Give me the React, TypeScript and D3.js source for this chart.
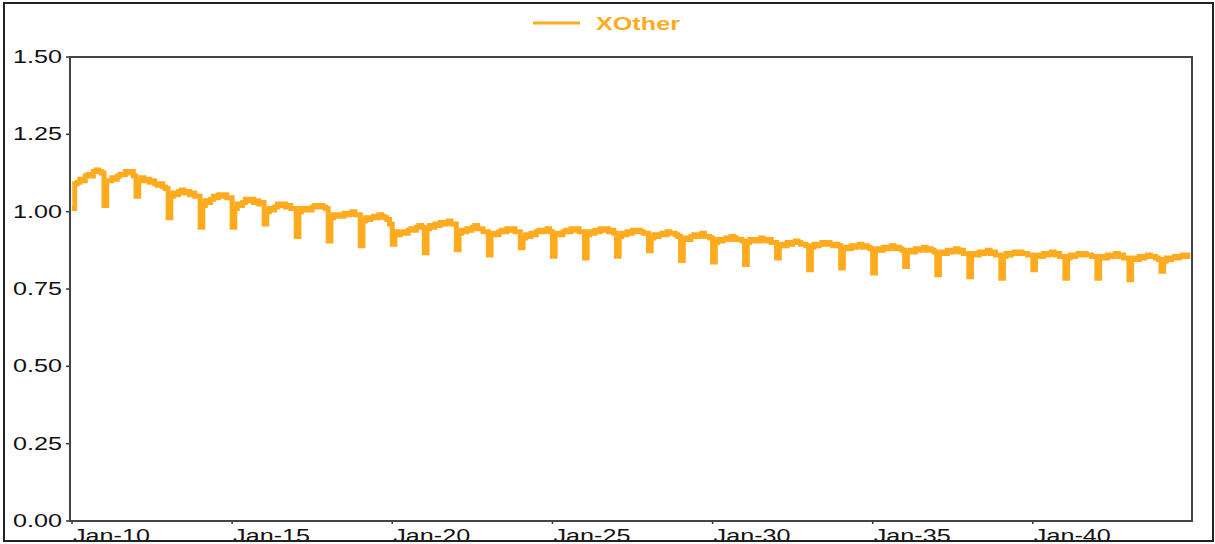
import React from 'react';
import * as d3 from 'd3';

const seriesName = 'XOther';
const seriesColor = '#FFAB1F';
const startYear = 2010;

// monthly values, one row per year (Jan..Dec)
const values: number[][] = [
  [1.01, 1.09, 1.095, 1.105, 1.10, 1.115, 1.12, 1.115, 1.13, 1.135, 1.13, 1.125], // 2010
  [1.02, 1.10, 1.10, 1.11, 1.105, 1.115, 1.12, 1.12, 1.13, 1.125, 1.13, 1.115], // 2011
  [1.05, 1.10, 1.11, 1.10, 1.105, 1.095, 1.10, 1.09, 1.085, 1.09, 1.08, 1.075], // 2012
  [0.98, 1.05, 1.06, 1.055, 1.065, 1.07, 1.06, 1.065, 1.055, 1.06, 1.05, 1.05], // 2013
  [0.95, 1.02, 1.035, 1.03, 1.04, 1.05, 1.045, 1.055, 1.05, 1.055, 1.045, 1.045], // 2014
  [0.95, 1.01, 1.025, 1.02, 1.03, 1.04, 1.035, 1.04, 1.03, 1.035, 1.025, 1.03], // 2015
  [0.96, 1.00, 1.01, 1.005, 1.015, 1.025, 1.02, 1.025, 1.015, 1.02, 1.01, 1.01], // 2016
  [0.92, 1.00, 1.01, 1.005, 1.01, 1.005, 1.015, 1.02, 1.015, 1.02, 1.015, 1.01], // 2017
  [0.905, 0.98, 0.99, 0.985, 0.99, 0.985, 0.995, 0.99, 0.995, 1.0, 0.99, 0.99], // 2018
  [0.89, 0.97, 0.98, 0.975, 0.98, 0.985, 0.98, 0.99, 0.985, 0.98, 0.975, 0.96], // 2019
  [0.895, 0.935, 0.925, 0.93, 0.935, 0.93, 0.94, 0.945, 0.94, 0.95, 0.955, 0.95], // 2020
  [0.867, 0.945, 0.955, 0.95, 0.96, 0.955, 0.965, 0.96, 0.965, 0.97, 0.96, 0.96], // 2021
  [0.877, 0.93, 0.94, 0.935, 0.945, 0.94, 0.95, 0.955, 0.945, 0.945, 0.935, 0.935], // 2022
  [0.86, 0.925, 0.93, 0.925, 0.935, 0.94, 0.935, 0.945, 0.94, 0.945, 0.935, 0.935], // 2023
  [0.883, 0.915, 0.925, 0.92, 0.93, 0.925, 0.935, 0.94, 0.935, 0.94, 0.945, 0.935], // 2024
  [0.856, 0.925, 0.93, 0.925, 0.935, 0.94, 0.935, 0.945, 0.94, 0.945, 0.935, 0.935], // 2025
  [0.85, 0.925, 0.935, 0.93, 0.94, 0.935, 0.945, 0.94, 0.945, 0.935, 0.94, 0.93], // 2026
  [0.856, 0.92, 0.93, 0.925, 0.935, 0.93, 0.94, 0.935, 0.94, 0.935, 0.93, 0.93], // 2027
  [0.874, 0.915, 0.925, 0.92, 0.925, 0.93, 0.925, 0.935, 0.93, 0.93, 0.925, 0.92], // 2028
  [0.842, 0.91, 0.915, 0.91, 0.92, 0.925, 0.92, 0.925, 0.93, 0.92, 0.92, 0.915], // 2029
  [0.837, 0.90, 0.91, 0.905, 0.91, 0.915, 0.91, 0.92, 0.915, 0.91, 0.91, 0.905], // 2030
  [0.829, 0.90, 0.91, 0.905, 0.91, 0.905, 0.915, 0.91, 0.905, 0.91, 0.90, 0.90], // 2031
  [0.85, 0.89, 0.895, 0.89, 0.90, 0.895, 0.90, 0.905, 0.90, 0.895, 0.895, 0.89], // 2032
  [0.812, 0.885, 0.895, 0.89, 0.895, 0.90, 0.895, 0.90, 0.895, 0.89, 0.895, 0.89], // 2033
  [0.818, 0.88, 0.885, 0.88, 0.89, 0.885, 0.89, 0.895, 0.885, 0.89, 0.885, 0.88], // 2034
  [0.802, 0.875, 0.88, 0.875, 0.885, 0.88, 0.885, 0.89, 0.88, 0.885, 0.88, 0.875], // 2035
  [0.823, 0.87, 0.875, 0.87, 0.88, 0.875, 0.88, 0.885, 0.875, 0.88, 0.875, 0.87], // 2036
  [0.796, 0.865, 0.87, 0.865, 0.875, 0.87, 0.875, 0.88, 0.87, 0.875, 0.865, 0.865], // 2037
  [0.79, 0.86, 0.865, 0.86, 0.87, 0.865, 0.87, 0.875, 0.865, 0.87, 0.86, 0.86], // 2038
  [0.785, 0.855, 0.865, 0.86, 0.865, 0.87, 0.865, 0.87, 0.865, 0.865, 0.86, 0.86], // 2039
  [0.812, 0.855, 0.86, 0.855, 0.865, 0.86, 0.865, 0.87, 0.86, 0.865, 0.855, 0.855], // 2040
  [0.785, 0.85, 0.86, 0.855, 0.86, 0.865, 0.86, 0.865, 0.86, 0.86, 0.855, 0.855], // 2041
  [0.785, 0.85, 0.855, 0.85, 0.86, 0.855, 0.86, 0.865, 0.855, 0.86, 0.85, 0.85], // 2042
  [0.78, 0.845, 0.85, 0.845, 0.855, 0.85, 0.855, 0.86, 0.855, 0.855, 0.85, 0.845], // 2043
  [0.807, 0.84, 0.85, 0.845, 0.85, 0.855, 0.85, 0.855, 0.86, 0.855, 0.86, 0.86], // 2044
];

const yTicks = [0, 0.25, 0.5, 0.75, 1.0, 1.25, 1.5];
const xTickYears = [2010, 2015, 2020, 2025, 2030, 2035, 2040];

type Pt = { date: Date; v: number };

export default function App() {
  const W = 1215;
  const H = 544;
  const left = 70, right = 1192, top = 57, bottom = 521;
  const sx = 1.4; // horizontal text stretch seen in the reference

  const x = d3
    .scaleTime()
    .domain([new Date(2010, 0, 1), new Date(2045, 0, 1)])
    .range([72, 1193]);
  const y = d3.scaleLinear().domain([0, 1.5]).range([bottom, top]);

  const data: Pt[] = values.flatMap((row, i) =>
    row.map((v, m) => ({ date: new Date(startYear + i, m, 1), v }))
  );
  const line = d3
    .line<Pt>()
    .x((d) => x(d.date))
    .y((d) => y(d.v))
    .curve(d3.curveStepAfter);

  const fmt = d3.timeFormat('%b-%y');
  const font = 'Arial, "Liberation Sans", Helvetica, sans-serif';

  return (
    <svg
      width={W}
      height={H}
      style={{ position: 'absolute', left: 0, top: 0, background: '#fff' }}
    >
      <rect x={0} y={0} width={W} height={H} fill="#fff" />
      <defs>
        <clipPath id="lbl">
          <rect x={0} y={0} width={W} height={540} />
        </clipPath>
      </defs>

      {/* legend */}
      <line x1={533} x2={580} y1={23} y2={23} stroke={seriesColor} strokeWidth={3} />
      <g transform={`translate(596,30) scale(${sx},1)`}>
        <text x={0} y={0} fontFamily={font} fontSize={18} fontWeight="bold" fill={seriesColor}>
          {seriesName}
        </text>
      </g>

      {/* data line */}
      <path
        d={line(data) || ''}
        fill="none"
        stroke={seriesColor}
        strokeWidth={5}
        strokeLinejoin="miter"
        strokeLinecap="butt"
      />

      {/* y ticks & labels */}
      {yTicks.map((t) => (
        <g key={t}>
          <line x1={66} x2={left} y1={y(t)} y2={y(t)} stroke="#333" strokeWidth={1.5} />
          <g transform={`translate(62,${y(t) + 6}) scale(${sx},1)`}>
            <text x={0} y={0} textAnchor="end" fontFamily={font} fontSize={18} fill="#111">
              {t.toFixed(2)}
            </text>
          </g>
        </g>
      ))}

      {/* x ticks & labels */}
      <g clipPath="url(#lbl)">
        {xTickYears.map((yr) => {
          const d = new Date(yr, 0, 1);
          const xp = x(d);
          return (
            <g key={yr}>
              <line x1={xp} x2={xp} y1={bottom} y2={bottom + 3} stroke="#333" strokeWidth={1.5} />
              <g transform={`translate(${xp + 1},542) scale(${sx},1)`}>
                <text x={0} y={0} fontFamily={font} fontSize={18} fill="#111">
                  {fmt(d)}
                </text>
              </g>
            </g>
          );
        })}
      </g>

      {/* plot frame */}
      <rect
        x={left}
        y={top}
        width={right - left}
        height={bottom - top}
        fill="none"
        stroke="#444"
        strokeWidth={2}
      />

      {/* outer frame */}
      <rect x={4} y={3} width={1209} height={538} fill="none" stroke="#222" strokeWidth={2} />
    </svg>
  );
}
